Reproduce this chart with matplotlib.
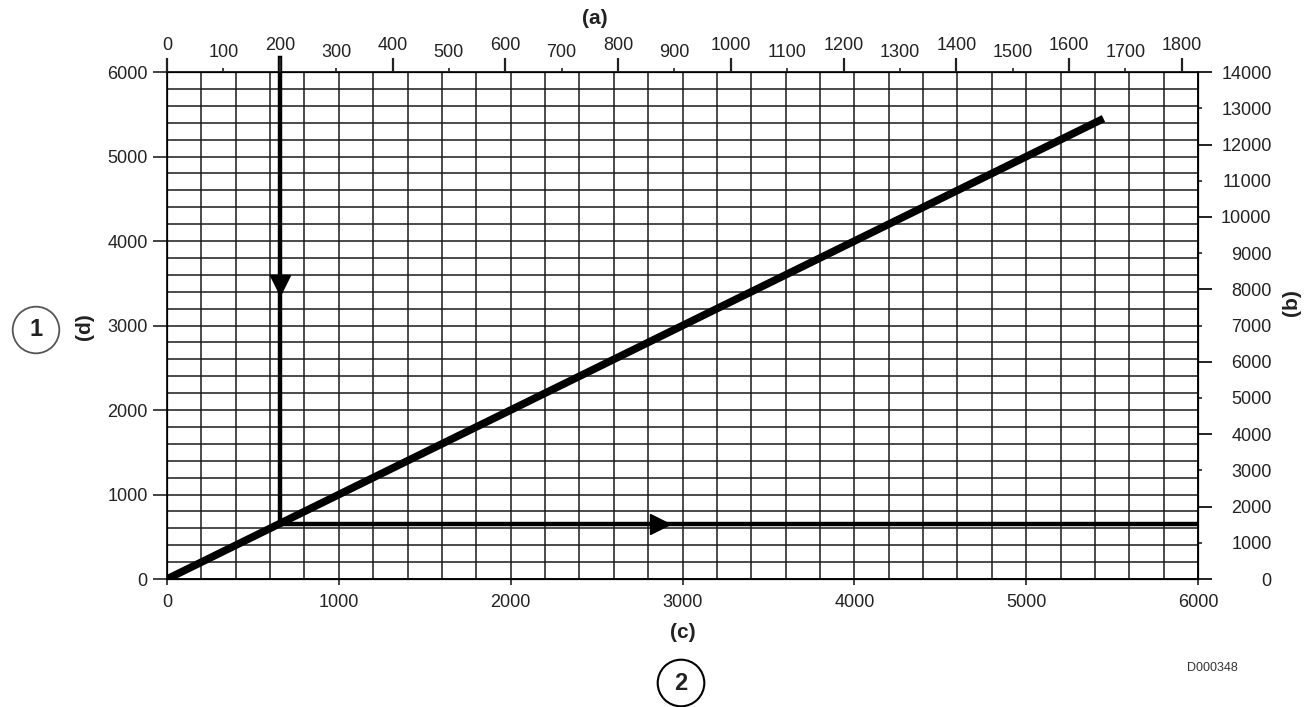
import numpy as np
import matplotlib
matplotlib.use("Agg")
import matplotlib.pyplot as plt

plt.rcParams['font.family'] = ['Liberation Sans', 'DejaVu Sans']

# scales: (c)/(d) bottom/left 0-6000, (a) top in metres, (b) right
c_lim = [0, 6000]
d_lim = [0, 6000]
b_max = 14000
m_to_ft = 3.2808

c_ticks = [0, 1000, 2000, 3000, 4000, 5000, 6000]
d_ticks = [0, 1000, 2000, 3000, 4000, 5000, 6000]
a_major = [0, 200, 400, 600, 800, 1000, 1200, 1400, 1600, 1800]
a_minor = [100, 300, 500, 700, 900, 1100, 1300, 1500, 1700]
b_major = [0, 2000, 4000, 6000, 8000, 10000, 12000, 14000]
b_minor = [1000, 3000, 5000, 7000, 9000, 11000, 13000]

# the 1:1 line
line_c = [0, 5450]
line_d = [0, 5450]

# worked example: read 200 on (a)
reading_a = 200
arrow_down_at = 3480    # d where the down arrowhead sits
arrow_right_at = 2870   # c where the right arrowhead sits

txt = '#222222'
fs = 13

fig = plt.figure(figsize=(13.09, 7.07), dpi=100)
ax = fig.add_axes([0.1276, 0.181, 0.7876, 0.717])
ax.set_xlim(c_lim)
ax.set_ylim(d_lim)

ax.set_xticks(np.arange(0, 6001, 200), minor=True)
ax.set_yticks(np.arange(0, 6001, 200), minor=True)
ax.set_xticks(c_ticks)
ax.set_yticks(d_ticks)
ax.grid(True, which='both', color='#1a1a1a', linewidth=1.1)
ax.set_axisbelow(True)
ax.tick_params(which='minor', length=0)
ax.tick_params(axis='y', which='major', length=10, width=1.2, labelsize=fs, pad=4, colors=txt)
ax.tick_params(axis='x', which='major', length=4, width=1.2, labelsize=fs, pad=7, colors=txt)
for s in ax.spines.values():
    s.set_linewidth(1.2)

# top axis (a)
ax_top = ax.twiny()
ax_top.set_xlim(c_lim[0] / m_to_ft, c_lim[1] / m_to_ft)
ax_top.set_xticks(a_major)
ax_top.set_xticks(a_minor, minor=True)
ax_top.set_xticklabels([str(v) for v in a_major])
ax_top.set_xticklabels([str(v) for v in a_minor], minor=True)
ax_top.tick_params(axis='x', which='major', length=10, width=1.6, labelsize=fs, pad=3, colors=txt)
ax_top.tick_params(axis='x', which='minor', length=3, width=1.2, labelsize=fs, pad=5, colors=txt)

# right axis (b), labels right-aligned
ax_r = ax.twinx()
ax_r.set_ylim(d_lim[0] * b_max / d_lim[1], b_max)
ax_r.set_yticks(b_major)
ax_r.set_yticks(b_minor, minor=True)
ax_r.set_yticklabels([str(v) for v in b_major], ha='right')
ax_r.set_yticklabels([str(v) for v in b_minor], minor=True, ha='right')
ax_r.tick_params(axis='y', which='major', length=10, width=1.4, labelsize=fs, pad=43, colors=txt)
ax_r.tick_params(axis='y', which='minor', length=3, width=1.2, labelsize=fs, pad=50, colors=txt)

# main line
ax.plot(line_c, line_d, color='black', linewidth=5.5, solid_capstyle='butt', zorder=5)

# arrows of the worked example
c_read = reading_a * m_to_ft
top_extra = d_lim[1] * 1.027
ax.plot([c_read, c_read], [top_extra, c_read], color='black', linewidth=3.2, clip_on=False, zorder=6)
ax.plot([c_read, c_lim[1]], [c_read, c_read], color='black', linewidth=3.2, zorder=6)
ax.plot([c_read], [arrow_down_at], marker='v', color='black', markersize=15, zorder=7)
ax.plot([arrow_right_at], [c_read], marker='>', color='black', markersize=15, zorder=7)

# axis letters
fig.text(595 / 1309, 1 - 18 / 707, '(a)', ha='center', va='center', fontsize=15, fontweight='bold', color=txt)
fig.text(683 / 1309, 1 - 633 / 707, '(c)', ha='center', va='center', fontsize=15, fontweight='bold', color=txt)
fig.text(85 / 1309, 1 - 327 / 707, '(d)', ha='center', va='center', fontsize=15, fontweight='bold',
         rotation=90, color=txt)
fig.text(1291 / 1309, 1 - 303 / 707, '(b)', ha='center', va='center', fontsize=15, fontweight='bold',
         rotation=90, color=txt)

# circled callouts
fig.text(36 / 1309, 1 - 330 / 707, '1', ha='center', va='center', fontsize=17, fontweight='bold', color=txt,
         bbox=dict(boxstyle='circle,pad=0.5', facecolor='white', edgecolor='#555555', linewidth=1.3))
fig.text(681 / 1309, 1 - 683 / 707, '2', ha='center', va='center', fontsize=17, fontweight='bold', color=txt,
         bbox=dict(boxstyle='circle,pad=0.5', facecolor='white', edgecolor='black', linewidth=1.5))

fig.text(1212 / 1309, 1 - 668 / 707, 'D000348', ha='center', va='center', fontsize=9, color='#333333')

fig.savefig('out.png', dpi=100)
